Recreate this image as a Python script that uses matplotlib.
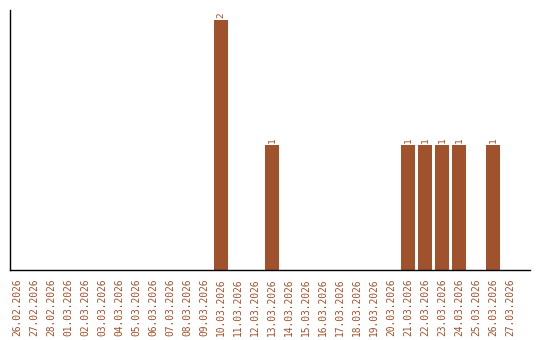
import matplotlib
matplotlib.use("Agg")
import matplotlib.pyplot as plt

dates = ["26.02.2026", "27.02.2026", "28.02.2026"] + [f"{d:02d}.03.2026" for d in range(1, 28)]
counts = [0] * 30
values = {"10.03.2026": 2, "13.03.2026": 1, "21.03.2026": 1, "22.03.2026": 1,
          "23.03.2026": 1, "24.03.2026": 1, "26.03.2026": 1}
for k, v in values.items():
    counts[dates.index(k)] = v

color = "#a0522d"
fig = plt.figure(figsize=(5.4, 3.4), dpi=100)
ax = fig.add_axes([10/540, 70/340, 520/540, 260/340])
x = list(range(len(dates)))
bars = ax.bar(x, counts, width=0.82, color=color)
for xi, c in zip(x, counts):
    if c > 0:
        ax.text(xi, c + 0.02, str(c), rotation=90, ha="center", va="bottom",
                fontsize=6.8, color=color, family="DejaVu Sans Mono")
ax.set_xlim(-0.41, 30.18)
ax.set_ylim(0, 2.08)
ax.set_xticks(x)
ax.set_xticklabels(dates, rotation=90, fontsize=6.9, color=color, family="DejaVu Sans Mono")
ax.tick_params(axis="x", length=0, pad=6)
ax.set_yticks([])
for s in ["top", "right"]:
    ax.spines[s].set_visible(False)
for s in ["left", "bottom"]:
    ax.spines[s].set_linewidth(1.0)
fig.savefig("out.png", dpi=100)
